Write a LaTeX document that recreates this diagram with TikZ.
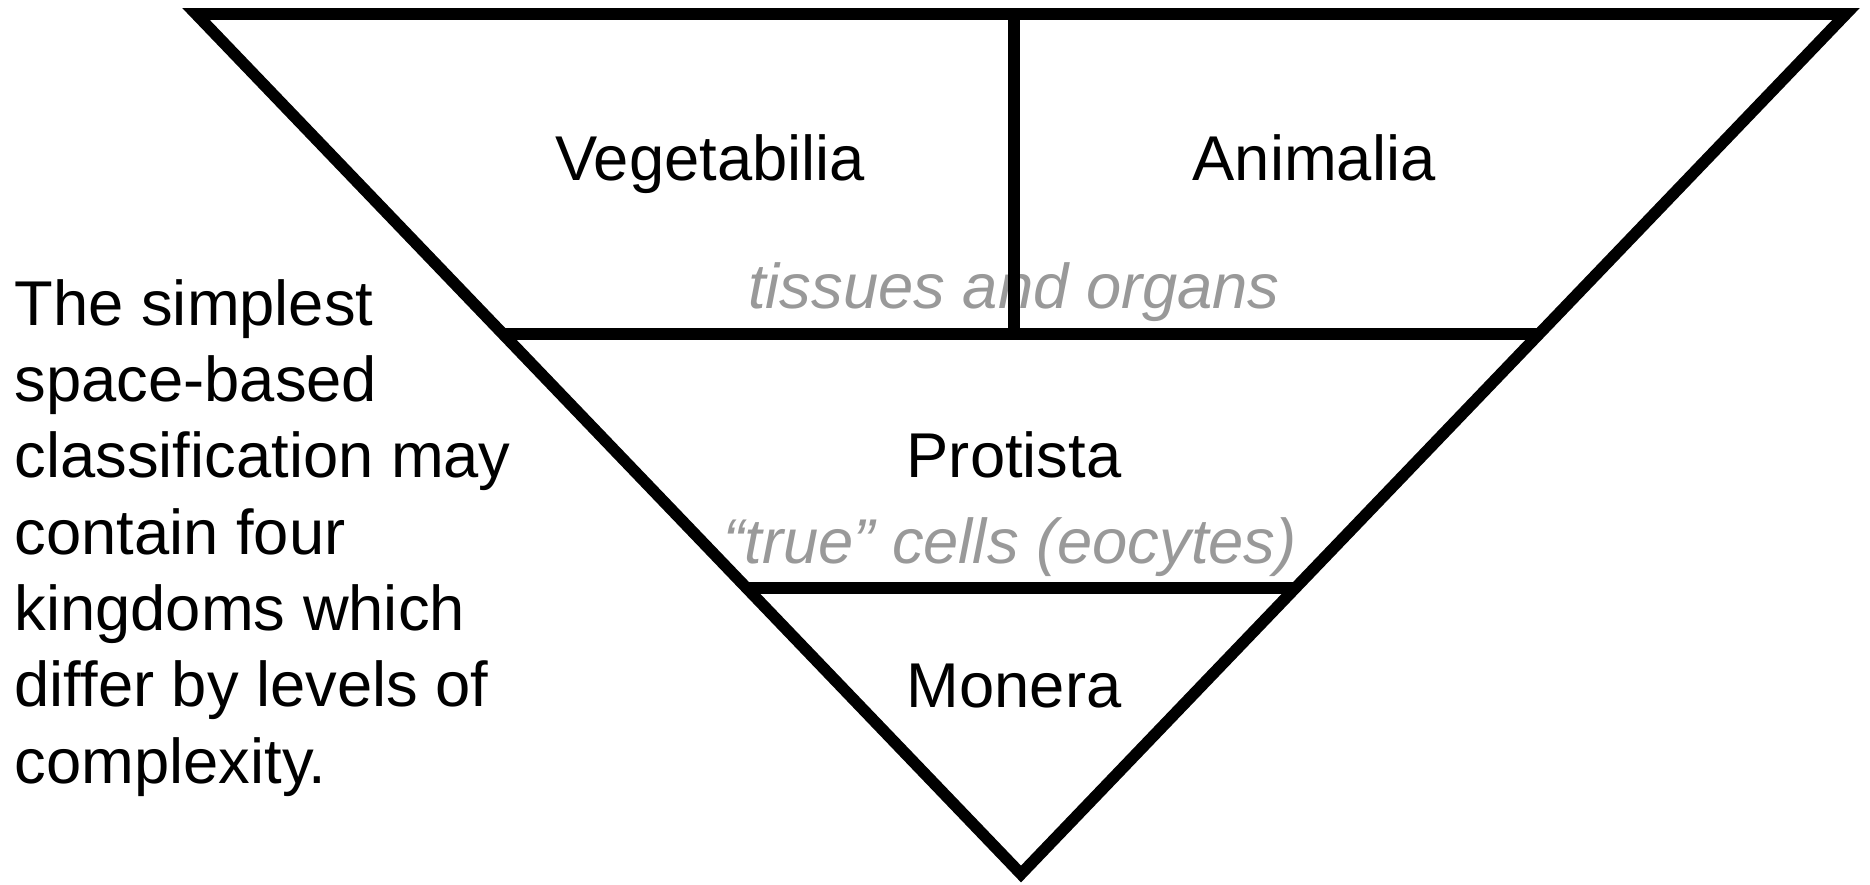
\documentclass[tikz,border=0pt]{standalone}
\usepackage{fontspec}
\setmainfont{Liberation Sans}
\usepackage{xcolor}
\usetikzlibrary{calc,positioning}
\definecolor{tiergray}{rgb}{0.60,0.60,0.60}

\begin{document}
\begin{tikzpicture}[
  x=0.01cm, y=-0.01cm,
  font=\fontsize{18}{21.7}\selectfont,
  kingdom/.style={inner sep=0pt, anchor=base},
  level/.style={kingdom, text=tiergray, font=\fontsize{18}{21.7}\selectfont\itshape},
  note/.style={inner sep=0pt, anchor=base west, align=left},
  wall/.style={line width=3.3pt, line join=miter}
]
\useasboundingbox (0,0) rectangle (1870,885);

% corners of the inverted triangle
\coordinate (tl) at (196,14);
\coordinate (tr) at (1846,14);
\coordinate (apex) at (1021,874);

% where the tier lines meet the sides
\coordinate (upL) at ($(tl)!0.3721!(apex)$);
\coordinate (upR) at ($(tr)!0.3721!(apex)$);
\coordinate (loL) at ($(tl)!0.6674!(apex)$);
\coordinate (loR) at ($(tr)!0.6674!(apex)$);
\coordinate (splitT) at (1014,14);
\coordinate (splitB) at (1014,334);

% labels first, the walls go over them
\node[level] (organs) at (1014,308) {tissues and organs};
\node[level] (cells) at (1010,563) {“true” cells (eocytes)};

\node[kingdom] (veg) at (710,181) {Vegetabilia};
\node[kingdom] (ani) at (1314,181) {Animalia};
\node[kingdom] (pro) at (1014,477) {Protista};
\node[kingdom] (mon) at (1014,707) {Monera};

% base of a multi-line node is its last line
\node[note] (caption) at (14,783)
  {The simplest\\ space-based\\ classification may\\ contain four\\
   kingdoms which\\ differ by levels of\\ complexity.};

\draw[wall] (tl) -- (tr) -- (apex) -- cycle;
\draw[wall] (splitT) -- (splitB);
\draw[wall] (upL) -- (upR);
\draw[wall] (loL) -- (loR);

\end{tikzpicture}
\end{document}
